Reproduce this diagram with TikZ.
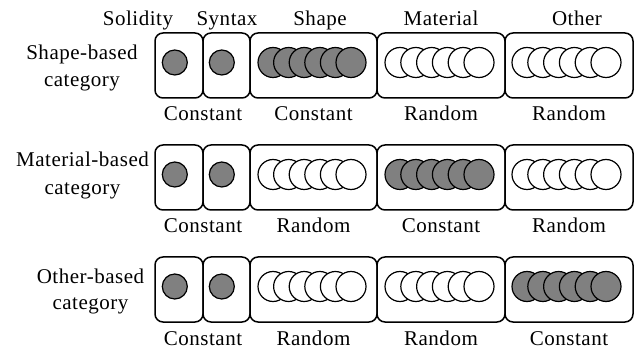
\documentclass[tikz,border=0pt]{standalone}
\usepackage{fontspec}
\setmainfont{Liberation Serif}[LetterSpace=2.5]
\begin{document}
\begin{tikzpicture}[x=1pt,y=-1pt,
  box/.style={draw,line width=1.5pt,rounded corners=8pt},
  dot/.style={draw,line width=1.2pt},
  txt/.style={font=\fontsize{21}{25}\selectfont,anchor=base,inner sep=0pt}]
\useasboundingbox (0,0) rectangle (639,352);
\definecolor{dotgray}{RGB}{128,128,128}
% headers
\node[txt] (hsol) at (138,26) {Solidity};
\node[txt] (hsyn) at (227,26) {Syntax};
\node[txt] (hsha) at (320,26) {Shape};
\node[txt] (hmat) at (441,26) {Material};
\node[txt] (hoth) at (577,26) {Other};
% rows
\foreach \ty/\fa/\fb/\fc/\la/\lb/\lc [count=\r] in
  {33/dotgray/white/white/Constant/Random/Random,
   145/white/dotgray/white/Random/Constant/Random,
   257/white/white/dotgray/Random/Random/Constant}{
  \draw[box] (155,\ty) rectangle (203,\ty+65);
  \draw[box] (203,\ty) rectangle (250,\ty+65);
  \draw[box] (250,\ty) rectangle (377,\ty+65);
  \draw[box] (377,\ty) rectangle (505,\ty+65);
  \draw[box] (505,\ty) rectangle (633,\ty+65);
  \draw[dot,fill=dotgray] (174.8,\ty+29.5) circle[radius=12.5pt];
  \draw[dot,fill=dotgray] (221.8,\ty+29.5) circle[radius=12.5pt];
  \foreach \k in {0,...,5}{
    \draw[dot,fill=\fa] (273+15.6*\k,\ty+29.5) circle[radius=15pt];
    \draw[dot,fill=\fb] (400+15.8*\k,\ty+29.5) circle[radius=15pt];
    \draw[dot,fill=\fc] (527+15.8*\k,\ty+29.5) circle[radius=15pt];
  }
  \node[txt] (c\r a) at (203,\ty+88) {Constant};
  \node[txt] (c\r b) at (313.5,\ty+88) {\la};
  \node[txt] (c\r c) at (441,\ty+88) {\lb};
  \node[txt] (c\r d) at (569,\ty+88) {\lc};
}
% row labels
\node[txt] (r1a) at (82,60) {Shape-based};
\node[txt] (r1b) at (82,87) {category};
\node[txt] (r2a) at (82.5,166.5) {Material-based};
\node[txt] (r2b) at (82.5,195) {category};
\node[txt] (r3a) at (90.5,283.5) {Other-based};
\node[txt] (r3b) at (90.5,309.5) {category};
\end{tikzpicture}
\end{document}
